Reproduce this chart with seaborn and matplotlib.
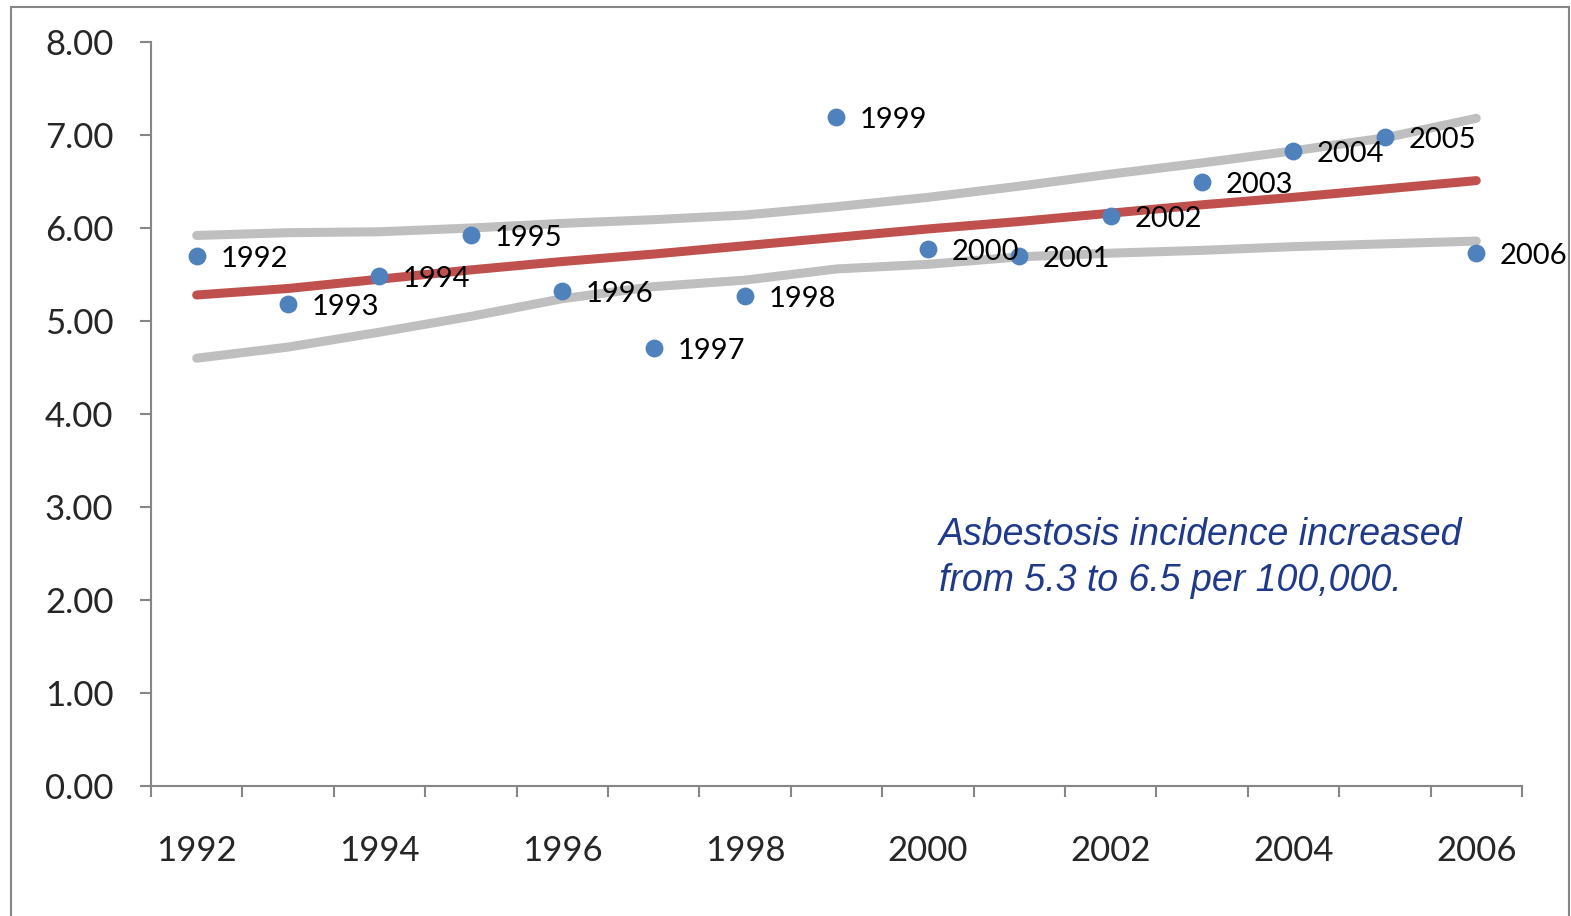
import matplotlib
matplotlib.use('Agg')
import matplotlib.pyplot as plt
from matplotlib.patches import Rectangle
from matplotlib.ticker import FixedLocator, FormatStrFormatter
import seaborn as sns
import pandas as pd

# Asbestosis incidence per 100,000, with trend line and band
years = [1992, 1993, 1994, 1995, 1996, 1997, 1998, 1999,
         2000, 2001, 2002, 2003, 2004, 2005, 2006]
rates = [5.70, 5.18, 5.48, 5.92, 5.32, 4.71, 5.27, 7.19,
         5.77, 5.70, 6.13, 6.49, 6.83, 6.98, 5.73]
trend = [5.28, 5.35, 5.45, 5.55, 5.64, 5.72, 5.81, 5.90,
         5.99, 6.07, 6.16, 6.25, 6.33, 6.42, 6.51]
upper = [5.92, 5.95, 5.96, 6.00, 6.05, 6.09, 6.14, 6.23,
         6.33, 6.45, 6.58, 6.70, 6.83, 6.97, 7.18]
lower = [4.60, 4.72, 4.88, 5.05, 5.24, 5.37, 5.44, 5.56,
         5.61, 5.69, 5.73, 5.76, 5.80, 5.83, 5.86]
year_labels = [1992, 1994, 1996, 1998, 2000, 2002, 2004, 2006]
note = 'Asbestosis incidence increased\nfrom 5.3 to 6.5 per 100,000.'

df = pd.DataFrame({'year': years, 'rate': rates, 'trend': trend,
                   'upper': upper, 'lower': lower})

sns.set_theme(style='white')
plt.rcParams['font.family'] = ['Lato', 'DejaVu Sans']

fig = plt.figure(figsize=(15.71, 9.16), dpi=100)
ax = fig.add_axes([0.0961, 0.1419, 0.8727, 0.8122])

axis_grey = '#868686'
line_kw = dict(linewidth=6.5, solid_capstyle='round', legend=False)
sns.lineplot(data=df, x='year', y='upper', color='#BFBFBF', ax=ax, **line_kw)
sns.lineplot(data=df, x='year', y='lower', color='#BFBFBF', ax=ax, **line_kw)
sns.lineplot(data=df, x='year', y='trend', color='#C0504D', ax=ax, **line_kw)
sns.scatterplot(data=df, x='year', y='rate', color='#4F81BD', s=165,
                linewidth=0, ax=ax, zorder=5, legend=False)

for yr, r in zip(years, rates):
    ax.annotate(str(yr), (yr, r), xytext=(17, -2), textcoords='offset points',
                ha='left', va='center', fontsize=21, color='black', zorder=6)

ax.text(0.575, 0.362, note, transform=ax.transAxes, fontsize=27,
        style='italic', color='#1F3A8A', family=['Liberation Sans'],
        ha='left', va='top', linespacing=1.38)

ax.set_xlim(1991.5, 2006.5)
ax.set_ylim(0, 8)
ax.set_yticks([0, 1, 2, 3, 4, 5, 6, 7, 8])
ax.yaxis.set_major_formatter(FormatStrFormatter('%.2f'))
ax.set_xticks(year_labels)
ax.set_xticklabels([str(y) for y in year_labels])
ax.xaxis.set_minor_locator(FixedLocator([y - 0.5 for y in years] + [2006.5]))
ax.tick_params(axis='x', which='major', length=0, pad=35, labelsize=25)
ax.tick_params(axis='x', which='minor', length=8, width=1.5,
               color=axis_grey, direction='out', bottom=True)
ax.tick_params(axis='y', length=8, width=1.5, color=axis_grey,
               direction='out', left=True, pad=19, labelsize=25)
ax.set_xlabel('')
ax.set_ylabel('')

for side in ['top', 'right']:
    ax.spines[side].set_visible(False)
for side in ['left', 'bottom']:
    ax.spines[side].set_color(axis_grey)
    ax.spines[side].set_linewidth(1.5)

# outer chart frame
fig.patches.append(Rectangle((0.0070, -0.02), 0.9917, 1.0124,
                             transform=fig.transFigure, fill=False,
                             edgecolor=axis_grey, linewidth=1.5))

fig.savefig('out.png', dpi=100)
